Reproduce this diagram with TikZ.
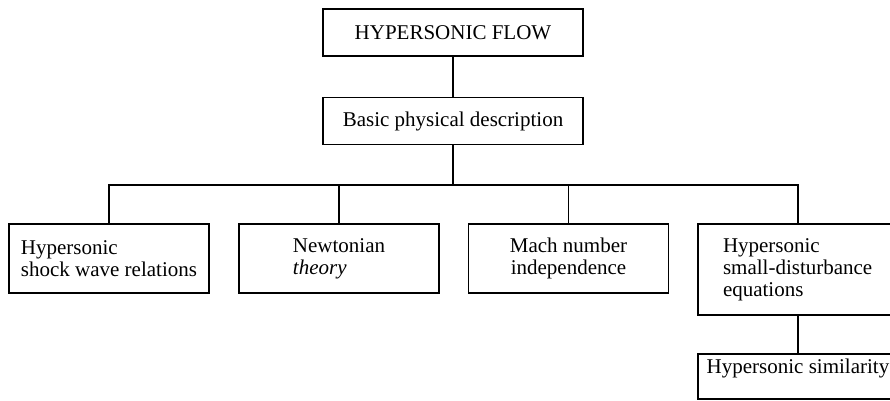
\documentclass[tikz,border=0pt]{standalone}
\usepackage{fontspec}
\setmainfont{Liberation Serif}
\usetikzlibrary{positioning}

\begin{document}
\begin{tikzpicture}[x=1pt, y=-1pt,
        kasten/.style={draw, line width=1.2pt, rectangle, inner sep=0pt, minimum width=#1},
        kasten/.default=200pt,
        font=\fontsize{21}{22}\selectfont]
        %Bildbereich
        \useasboundingbox (0,0) rectangle (890,400);
        \clip (0,0) rectangle (890,400);
        %Kästen zeichnen
        \node[kasten=260pt, minimum height=47pt] (flow) at (453,32.5) {HYPERSONIC FLOW};
        \node[kasten=260pt, minimum height=47pt] (basic) at (453,121) {Basic physical description};
        \node[kasten, minimum height=69pt, align=left] (shock) at (109,258.5) {Hypersonic\\shock wave relations};
        \node[kasten, minimum height=69pt, align=left] (newton) at (339,258.5) {Newtonian\\\textit{theory}};
        \node[kasten, minimum height=69pt, align=center] (mach) at (568.5,258.5) {Mach number\\independence};
        \node[kasten, minimum height=91pt, inner xsep=25pt, text width=150pt, align=left] (sdist) at (798,269.5) {Hypersonic\\small-disturbance\\equations};
        \node[kasten, minimum height=45pt, text depth=20pt] (simil) at (798,376.5) {Hypersonic similarity};
        %Verbindungen zeichnen
        \coordinate (bus) at (453,185);
        \draw[line width=1.2pt] (flow) -- (basic);
        \draw[line width=1.2pt] (basic) -- (bus);
        \draw[line width=1.2pt] (shock.north) |- (bus) -| (sdist.north);
        \draw[line width=1.2pt] (newton.north) -- (newton.north |- bus);
        \draw[line width=1.2pt] (mach.north) -- (mach.north |- bus);
        \draw[line width=1.2pt] (sdist) -- (simil);
    \end{tikzpicture}
\end{document}
